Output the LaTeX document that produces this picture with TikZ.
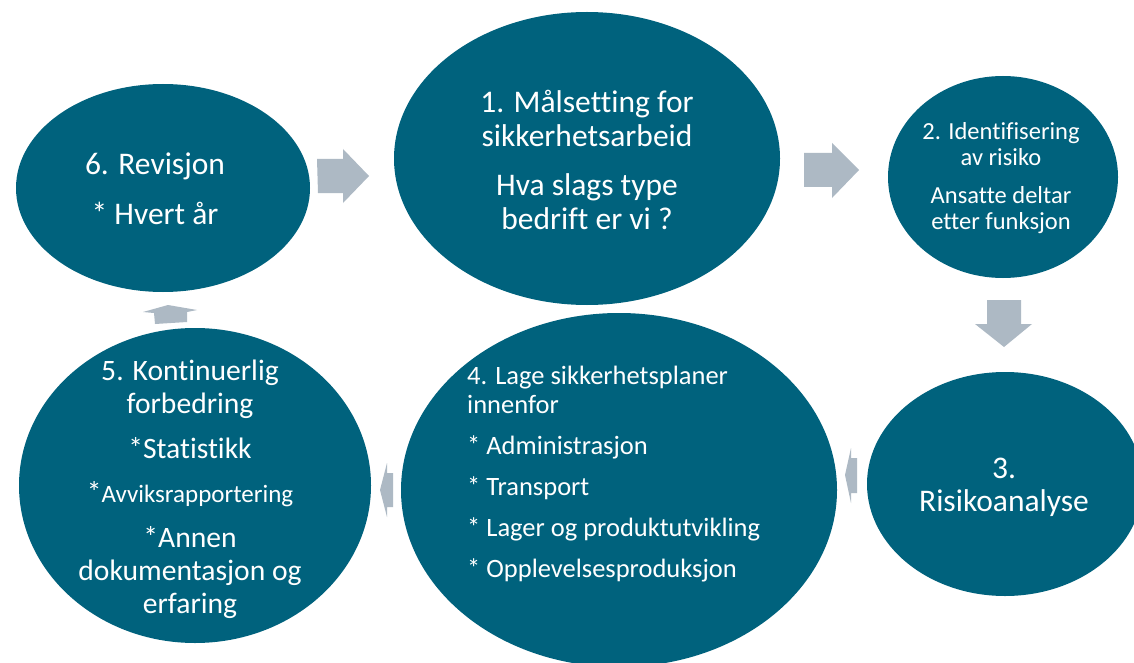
\documentclass[tikz,border=0pt]{standalone}
\usepackage{fontspec}
\setmainfont{Carlito}[Ligatures=NoCommon]
\usetikzlibrary{shapes.geometric}
\definecolor{tealfill}{RGB}{0,98,125}
\definecolor{arrowgrey}{RGB}{173,185,196}
\begin{document}
\begin{tikzpicture}[x=1pt,y=-1pt,
  ell/.style={ellipse, fill=tealfill, draw=none, inner sep=0pt},
  lbl/.style={text=white, align=center, inner sep=0pt},
  blockarrow/.style={fill=arrowgrey, draw=none}]
\clip (0,0) rectangle (1134,663);
\fill[white] (0,0) rectangle (1134,663);

% block arrows
\fill[blockarrow] (317,159) -- (343,159) -- (343,149) -- (369,176) -- (343,203) -- (343,193) -- (318,193) -- cycle;
\fill[blockarrow] (804,153) -- (832,153) -- (832,143) -- (859,170) -- (832,198) -- (832,187) -- (804,187) -- cycle;
\fill[blockarrow] (987,300) -- (1021,300) -- (1021,324) -- (1032,324) -- (1004,347) -- (975,324) -- (987,324) -- cycle;
\fill[blockarrow] (857,458) -- (851,458) -- (851,448) -- (845,475) -- (851,503) -- (851,493) -- (857,493) -- cycle;
\fill[blockarrow] (393,473) -- (387,473) -- (387,463) -- (380,490) -- (387,517) -- (387,507) -- (393,507) -- cycle;
\fill[blockarrow] (155,324) -- (154,313) -- (143,312) -- (168,305) -- (197,310) -- (187,312) -- (187,322) -- cycle;

% ellipses
\node[ell, minimum width=386pt, minimum height=293pt] (e1) at (587,158.5) {};
\node[ell, minimum width=230pt, minimum height=202pt] (e2) at (1003,177) {};
\node[ell, minimum width=276pt, minimum height=224pt] (e3) at (1005,484) {};
\node[ell, minimum width=436pt, minimum height=354pt] (e4) at (619,490) {};
\node[ell, minimum width=352pt, minimum height=315pt] (e5) at (195,485.5) {};
\node[ell, minimum width=294pt, minimum height=208pt] (e6) at (163,188) {};

% texts
\node[lbl, font=\fontsize{31.5}{34}\selectfont] (t1) at (587,159.5)
  {1. Målsetting for\\sikkerhetsarbeid\\[15pt]Hva slags type\\bedrift er vi ?};
\node[lbl, font=\fontsize{24.5}{26}\selectfont] (t2) at (1001,178)
  {2. Identifisering\\av risiko\\[12pt]Ansatte deltar\\etter funksjon};
\node[lbl, font=\fontsize{31.5}{33}\selectfont] (t3) at (1004,487)
  {3.\\Risikoanalyse};
\node[lbl, align=left, anchor=west, font=\fontsize{26.5}{29}\selectfont] (t4) at (467,474.5)
  {4. Lage sikkerhetsplaner\\innenfor\\[12pt]* Administrasjon\\[12pt]* Transport\\[12pt]* Lager og produktutvikling\\[12pt]* Opplevelsesproduksjon};
\node[lbl, font=\fontsize{29.6}{33}\selectfont] (t5) at (190,489.5)
  {5. Kontinuerlig\\forbedring\\[11.5pt]*Statistikk\\[11.5pt]*{\fontsize{25}{33}\selectfont Avviksrapportering}\\[11.5pt]*Annen\\dokumentasjon og\\erfaring};
\node[lbl, font=\fontsize{31.5}{34}\selectfont] (t6) at (155,189)
  {6. Revisjon\\[16pt]* Hvert år};
\end{tikzpicture}
\end{document}
